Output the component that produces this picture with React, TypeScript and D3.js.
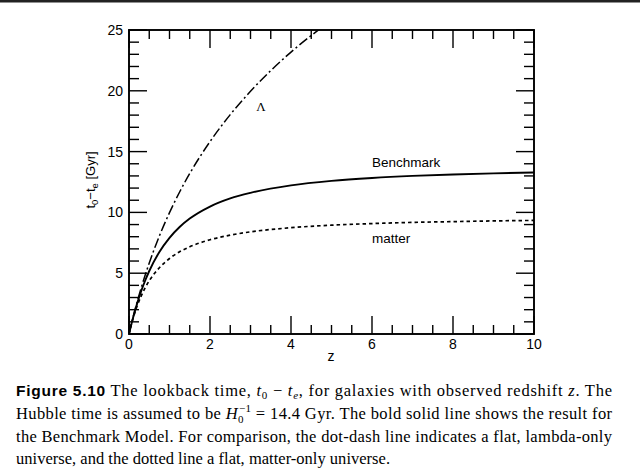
import React from "react";
import * as d3 from "d3";

const xTicksMajor = [0, 2, 4, 6, 8, 10];
const yTicksMajor = [0, 5, 10, 15, 20, 25];

const zBench = [0, 0.05, 0.1, 0.2, 0.3, 0.4, 0.5, 0.75, 1, 1.25, 1.5, 2, 2.5, 3, 4, 5, 6, 7, 8, 9, 10];
const benchmark = [0, 0.69, 1.34, 2.5, 3.52, 4.4, 5.18, 6.75, 7.91, 8.8, 9.49, 10.48, 11.15, 11.61, 12.22, 12.59, 12.83, 13.0, 13.12, 13.21, 13.28];
const matter = [0, 0.68, 1.28, 2.3, 3.12, 3.81, 4.38, 5.45, 6.21, 6.76, 7.17, 7.75, 8.13, 8.4, 8.74, 8.95, 9.08, 9.18, 9.24, 9.3, 9.34];
const zLambda = [0, 0.05, 0.1, 0.2, 0.3, 0.4, 0.5, 0.75, 1, 1.25, 1.5, 2, 2.5, 3, 3.5, 4, 4.5, 4.7];
const lambda = [0, 0.7, 1.37, 2.63, 3.78, 4.85, 5.84, 8.06, 9.98, 11.68, 13.2, 15.82, 18.04, 19.96, 21.66, 23.18, 24.55, 25.06];

const L = 129, R = 534, T = 30, B = 334;

export default function App() {
  const x = d3.scaleLinear().domain([0, 10]).range([L, R]);
  const y = d3.scaleLinear().domain([0, 25]).range([B, T]);
  const line = d3
    .line<[number, number]>()
    .x((d) => x(d[0]))
    .y((d) => y(d[1]))
    .curve(d3.curveMonotoneX);
  const benchPts = zBench.map((z, i) => [z, benchmark[i]] as [number, number]);
  const matterPts = zBench.map((z, i) => [z, matter[i]] as [number, number]);
  const lambdaPts = zLambda.map((z, i) => [z, lambda[i]] as [number, number]);

  const xMinor = d3.range(0, 10.001, 0.5);
  const yMinor = d3.range(0, 25.001, 1);
  const sans = "'Liberation Sans', Arial, Helvetica, sans-serif";
  const serif = "'Liberation Serif', 'Times New Roman', serif";
  const ink = "#000";

  return (
    <svg width={640} height={474} style={{ position: "absolute", left: 0, top: 0, background: "#fff" }}>
      <defs>
        <clipPath id="plotclip">
          <rect x={L} y={T} width={R - L} height={B - T} />
        </clipPath>
      </defs>
      <line x1={0} x2={640} y1={1} y2={1} stroke="#222" strokeWidth={3} />

      {xMinor.map((v) => {
        const major = xTicksMajor.includes(v);
        const len = major ? 18 : 9;
        return (
          <g key={"x" + v}>
            <line x1={x(v)} x2={x(v)} y1={B} y2={B - len} stroke={ink} strokeWidth={1.4} />
            <line x1={x(v)} x2={x(v)} y1={T} y2={T + len} stroke={ink} strokeWidth={1.4} />
          </g>
        );
      })}
      {yMinor.map((v) => {
        const major = yTicksMajor.includes(v);
        const len = major ? 18 : 10;
        return (
          <g key={"y" + v}>
            <line x1={L} x2={L + len} y1={y(v)} y2={y(v)} stroke={ink} strokeWidth={1.4} />
            <line x1={R} x2={R - len} y1={y(v)} y2={y(v)} stroke={ink} strokeWidth={1.4} />
          </g>
        );
      })}
      <rect x={L} y={T} width={R - L} height={B - T} fill="none" stroke={ink} strokeWidth={1.9} />

      {xTicksMajor.map((v) => (
        <text key={"xl" + v} x={x(v)} y={349} textAnchor="middle" fontFamily={sans} fontSize={14} fill={ink}>
          {v}
        </text>
      ))}
      {yTicksMajor.map((v) => (
        <text key={"yl" + v} x={123} y={y(v) + 5} textAnchor="end" fontFamily={sans} fontSize={14} fill={ink}>
          {v}
        </text>
      ))}

      <text x={331} y={361} textAnchor="middle" fontFamily={sans} fontSize={14} fill={ink}>z</text>
      <text transform="translate(95,180) rotate(-90)" textAnchor="middle" fontFamily={sans} fontSize={13} fill={ink}>
        t<tspan fontSize={9.5} dy={3}>0</tspan>
        <tspan dy={-3}>−t</tspan>
        <tspan fontSize={9.5} dy={3}>e</tspan>
        <tspan dy={-3}> [Gyr]</tspan>
      </text>

      <g clipPath="url(#plotclip)" fill="none">
        <path d={line(lambdaPts) || ""} stroke={ink} strokeWidth={1.5} strokeDasharray="10 3 2 3" />
        <path d={line(matterPts) || ""} stroke={ink} strokeWidth={1.7} strokeDasharray="3.5 3" />
        <path d={line(benchPts) || ""} stroke={ink} strokeWidth={1.9} />
      </g>

      <text x={261} y={111} textAnchor="middle" fontFamily={serif} fontSize={13} fill={ink}>Λ</text>
      <text x={372} y={167} fontFamily={sans} fontSize={13.5} fill={ink}>Benchmark</text>
      <text x={372} y={243} fontFamily={sans} fontSize={13.5} fill={ink}>matter</text>

      <g fontFamily={serif} fontSize={16.5} fill={ink}>
        <text x={16} y={396} textLength={596} lengthAdjust="spacing">
          <tspan fontFamily={sans} fontWeight="bold" fontSize={15.5}>Figure 5.10</tspan>
          <tspan> The lookback time, </tspan>
          <tspan fontStyle="italic">t</tspan>
          <tspan fontSize={11} dy={3}>0</tspan>
          <tspan dy={-3}> − </tspan>
          <tspan fontStyle="italic">t</tspan>
          <tspan fontSize={11} fontStyle="italic" dy={3}>e</tspan>
          <tspan dy={-3}>, for galaxies with observed redshift </tspan>
          <tspan fontStyle="italic">z</tspan>
          <tspan>. The</tspan>
        </text>
        <text x={16} y={419} textLength={596} lengthAdjust="spacing">
          <tspan>Hubble time is assumed to be </tspan>
          <tspan fontStyle="italic">H</tspan>
          <tspan fontSize={11} dy={4}>0</tspan>
          <tspan fontSize={11} dx={-5} dy={-11}>−1</tspan>
          <tspan dy={7}> = 14.4 Gyr. The bold solid line shows the result for</tspan>
        </text>
        <text x={16} y={442} textLength={596} lengthAdjust="spacing">
          the Benchmark Model. For comparison, the dot-dash line indicates a flat, lambda-only
        </text>
        <text x={16} y={464} textLength={374} lengthAdjust="spacing">
          universe, and the dotted line a flat, matter-only universe.
        </text>
      </g>
    </svg>
  );
}
